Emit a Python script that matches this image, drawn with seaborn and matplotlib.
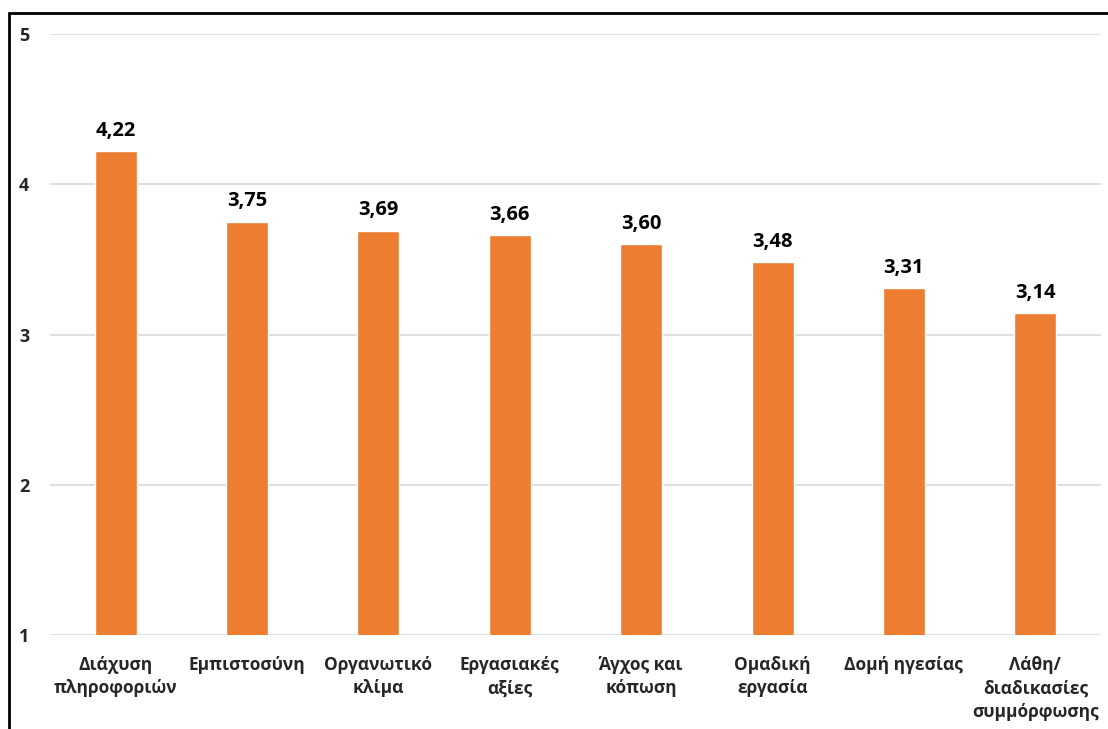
import matplotlib
matplotlib.use("Agg")
import matplotlib.pyplot as plt
from matplotlib.lines import Line2D
import seaborn as sns
import pandas as pd

categories = [
    "Διάχυση\nπληροφοριών",
    "Εμπιστοσύνη",
    "Οργανωτικό\nκλίμα",
    "Εργασιακές\nαξίες",
    "Άγχος και\nκόπωση",
    "Ομαδική\nεργασία",
    "Δομή ηγεσίας",
    "Λάθη/\nδιαδικασίες\nσυμμόρφωσης",
]
scores = [4.22, 3.75, 3.69, 3.66, 3.60, 3.48, 3.31, 3.14]
y_ticks = [1, 2, 3, 4, 5]

sns.set_theme(style="white")
plt.rcParams["font.family"] = ["Open Sans", "DejaVu Sans"]
plt.rcParams["font.weight"] = "bold"

BAR_COLOR = "#ED7D31"
GRID_COLOR = "#D9D9D9"

df = pd.DataFrame({"category": categories, "score": scores})

fig = plt.figure(figsize=(11.08, 7.29), dpi=100)
ax = fig.add_axes([50 / 1108, 94 / 729, 1051 / 1108, 601 / 729])

sns.barplot(data=df, x="category", y="score", color=BAR_COLOR,
            width=0.32, saturation=1, ax=ax, zorder=3)

ax.set_ylim(1, 5)
ax.set_xlim(-0.5, len(categories) - 0.5)
ax.set_yticks(y_ticks)
ax.set_yticklabels([str(t) for t in y_ticks], fontsize=13, fontweight="bold")
ax.tick_params(axis="y", length=0, pad=15)
ax.tick_params(axis="x", length=0, pad=15)
for lbl in ax.get_xticklabels():
    lbl.set_fontsize(12.5)
    lbl.set_fontweight("bold")
    lbl.set_linespacing(1.4)
    lbl.set_verticalalignment("top")

ax.yaxis.grid(True, color=GRID_COLOR, linewidth=1.2, zorder=0)
ax.set_axisbelow(True)
for s in ax.spines.values():
    s.set_visible(False)
ax.set_xlabel("")
ax.set_ylabel("")

for i, v in enumerate(scores):
    ax.annotate(f"{v:.2f}".replace(".", ","), xy=(i, v), xytext=(0, 7.5),
                textcoords="offset points", ha="center", va="bottom",
                fontsize=14.5, fontweight="bold", color="black")

# frame running off the right and bottom edges
fig.add_artist(Line2D([9 / 1108, 9 / 1108], [-0.01, 1 - 13 / 729],
                      transform=fig.transFigure, color="black", linewidth=2))
fig.add_artist(Line2D([9 / 1108, 1.01], [1 - 13 / 729, 1 - 13 / 729],
                      transform=fig.transFigure, color="black", linewidth=2))

fig.savefig("out.png", dpi=100)
